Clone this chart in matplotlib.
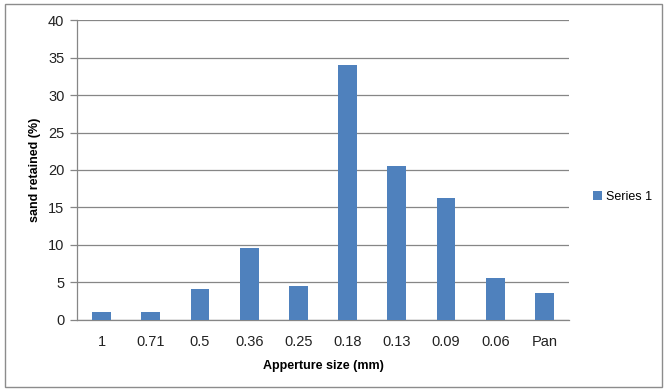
import matplotlib.pyplot as plt
from matplotlib.patches import Rectangle

# sieve apertures and percentage of sand retained on each
apertures = ['1', '0.71', '0.5', '0.36', '0.25', '0.18', '0.13', '0.09', '0.06', 'Pan']
retained = [1.0, 1.0, 4.1, 9.5, 4.5, 34.1, 20.6, 16.2, 5.5, 3.6]
series_name = 'Series 1'

W, H = 665, 389
fig = plt.figure(figsize=(W / 100, H / 100), dpi=100)
plt.rcParams['font.family'] = ['Liberation Sans', 'DejaVu Sans']

# outer chart frame
fig.patches.append(Rectangle((5 / W, 2 / H), 657 / W, 383 / H, transform=fig.transFigure,
                             fill=False, edgecolor='#8c8c8c', linewidth=1.0))

ax = fig.add_axes([77 / W, 1 - 319.5 / H, (569 - 77) / W, (319.5 - 20.5) / H])
x = range(len(apertures))
ax.bar(x, retained, width=0.38, color='#4f81bd', label=series_name, zorder=3)

ax.set_xlim(-0.5, len(apertures) - 0.5)
ax.set_ylim(0, 40)
ax.set_yticks(range(0, 41, 5))
ax.set_xticks(list(x))
ax.set_xticklabels(apertures)
ax.grid(axis='y', color='#868686', linewidth=0.9, zorder=0)

for side in ['top', 'right']:
    ax.spines[side].set_visible(False)
for side in ['left', 'bottom']:
    ax.spines[side].set_color('#868686')
    ax.spines[side].set_linewidth(0.9)
ax.tick_params(axis='y', length=5, width=0.9, color='#868686', labelsize=10.5, labelcolor='#222222', pad=4)
ax.tick_params(axis='x', length=0, labelsize=10.5, labelcolor='#222222', pad=11)

ax.set_ylabel('sand retained (%)', fontsize=9, fontweight='bold', labelpad=5)
ax.set_xlabel('Apperture size (mm)', fontsize=9, fontweight='bold', labelpad=8)

ax.legend(loc='center left', bbox_to_anchor=(582 / W, 1 - 197 / H), bbox_transform=fig.transFigure,
          frameon=False, fontsize=9, handlelength=0.7, handleheight=0.7, handletextpad=0.3)

fig.savefig('out.png', dpi=100)
